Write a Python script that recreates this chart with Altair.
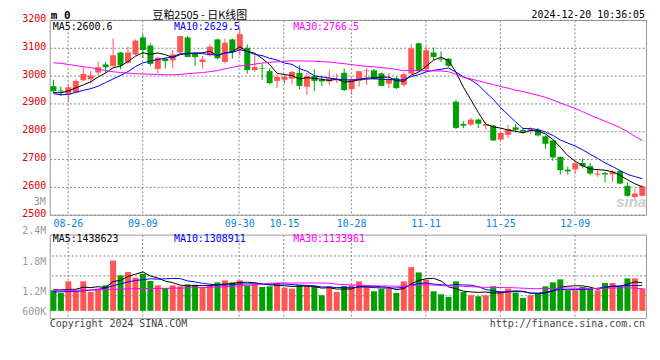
import altair as alt
import pandas as pd

# ---------------- data ----------------
dates = ["08-22", "08-23", "08-26", "08-27", "08-28", "08-29", "08-30",
         "09-02", "09-03", "09-04", "09-05", "09-06",
         "09-09", "09-10", "09-11", "09-12", "09-13",
         "09-18", "09-19", "09-20",
         "09-23", "09-24", "09-25", "09-26", "09-27",
         "09-30",
         "10-08", "10-09", "10-10", "10-11",
         "10-14", "10-15", "10-16", "10-17", "10-18",
         "10-21", "10-22", "10-23", "10-24", "10-25",
         "10-28", "10-29", "10-30", "10-31",
         "11-01",
         "11-04", "11-05", "11-06", "11-07", "11-08",
         "11-11", "11-12", "11-13", "11-14", "11-15",
         "11-18", "11-19", "11-20", "11-21", "11-22",
         "11-25", "11-26", "11-27", "11-28", "11-29",
         "12-02", "12-03", "12-04", "12-05", "12-06",
         "12-09", "12-10", "12-11", "12-12", "12-13",
         "12-16", "12-17", "12-18", "12-19", "12-20"]

open_ = [2962, 2946, 2933, 2939, 2983, 2987, 3011, 3040, 3034, 3083,
         3046, 3076, 3137, 3108, 3024, 3061, 3055, 3083, 3137, 3079,
         3049, 3073, 3130, 3049, 3130, 3092, 3100, 3020, 3026, 3016,
         2981, 2985, 2989, 3010, 2960, 2998, 2985, 2979, 2983, 3010,
         2951, 2981, 3016, 3019, 3008, 2971, 2991, 2967, 3007, 3116,
         3023, 3083, 3061, 3061, 2906, 2826, 2824, 2842, 2820, 2820,
         2770, 2787, 2814, 2805, 2802, 2805, 2782, 2767, 2708, 2662,
         2663, 2686, 2675, 2644, 2650, 2645, 2657, 2604, 2564, 2568]
high = [2985, 2961, 2969, 2987, 3032, 3017, 3051, 3049, 3133, 3085,
        3104, 3130, 3148, 3116, 3068, 3064, 3092, 3143, 3142, 3082,
        3070, 3112, 3133, 3133, 3133, 3174, 3112, 3073, 3043, 3026,
        3005, 3005, 3017, 3037, 3011, 3023, 2999, 3019, 3007, 3026,
        2993, 3016, 3026, 3023, 3011, 3010, 2998, 3011, 3112, 3119,
        3104, 3101, 3087, 3063, 2913, 2836, 2849, 2846, 2832, 2823,
        2796, 2823, 2826, 2811, 2814, 2811, 2785, 2768, 2709, 2673,
        2691, 2701, 2686, 2660, 2654, 2660, 2660, 2616, 2594, 2606]
low = [2939, 2927, 2904, 2937, 2981, 2971, 3001, 3011, 3032, 3023,
       3043, 3073, 3064, 3034, 3008, 3026, 3026, 3080, 3065, 3034,
       3025, 3068, 3058, 3044, 3061, 3073, 3007, 3013, 2985, 2969,
       2955, 2971, 2969, 2951, 2931, 2944, 2963, 2967, 2973, 2944,
       2931, 2960, 2967, 2985, 2962, 2955, 2951, 2960, 3005, 3013,
       3019, 3056, 3049, 3032, 2808, 2811, 2818, 2812, 2806, 2765,
       2767, 2776, 2796, 2793, 2790, 2781, 2737, 2694, 2645, 2645,
       2648, 2666, 2642, 2636, 2616, 2618, 2610, 2564, 2552, 2566]
close = [2944, 2943, 2958, 2981, 3006, 3001, 3030, 3030, 3073, 3037,
         3083, 3126, 3092, 3042, 3064, 3052, 3076, 3142, 3067, 3067,
         3058, 3104, 3062, 3118, 3085, 3149, 3020, 3031, 3024, 2973,
         2995, 2995, 3013, 2963, 2998, 2981, 2979, 2991, 2987, 2948,
         2987, 3016, 3019, 2987, 2963, 2987, 2955, 3005, 3098, 3017,
         3091, 3067, 3058, 3035, 2812, 2820, 2842, 2827, 2826, 2767,
         2794, 2808, 2805, 2799, 2808, 2785, 2755, 2706, 2660, 2656,
         2685, 2674, 2648, 2648, 2645, 2656, 2612, 2568, 2576, 2602]

ma5 = [2939, 2938, 2945, 2956, 2966.4, 2977.8, 2995.2, 3009.6, 3028, 3034.2,
       3050.6, 3069.8, 3082.2, 3076, 3081.4, 3075.2, 3065.2, 3075.2, 3080.2, 3080.8,
       3082, 3087.6, 3071.6, 3081.8, 3085.4, 3103.6, 3086.8, 3080.6, 3061.8, 3039.4,
       3008.6, 3003.6, 3000, 2987.8, 2992.8, 2990, 2986.8, 2982.4, 2987.2, 2977.2,
       2978.4, 2985.8, 2991.4, 2991.4, 2994.4, 2994.4, 2982.2, 2979.4, 3001.6, 3012.4,
       3033.2, 3055.6, 3066.2, 3053.6, 3012.6, 2958.4, 2913.4, 2867.2, 2825.4, 2816.4,
       2811.2, 2804.4, 2800, 2794.6, 2802.8, 2801, 2790.4, 2770.6, 2742.8, 2712.4,
       2692.4, 2676.2, 2664.6, 2662.2, 2660, 2654.2, 2641.8, 2625.8, 2611.4, 2600.6]
ma10 = [2935, 2931, 2932, 2940, 2947, 2953, 2962, 2975, 2988, 3000.3,
        3014.2, 3032.5, 3045.9, 3052, 3057.8, 3062.9, 3067.5, 3078.7, 3078.1, 3081.1,
        3078.6, 3076.4, 3073.4, 3081, 3083.1, 3092.8, 3087.2, 3076.1, 3071.8, 3062.4,
        3056.1, 3045.2, 3040.3, 3024.8, 3016.1, 2999.3, 2995.2, 2991.2, 2987.5, 2985,
        2984.2, 2986.3, 2986.9, 2989.3, 2985.8, 2986.4, 2984, 2985.4, 2996.5, 3003.4,
        3013.8, 3018.9, 3022.8, 3027.6, 3012.5, 2995.8, 2984.5, 2966.7, 2939.5, 2914.5,
        2884.8, 2858.9, 2833.6, 2810, 2809.6, 2806.1, 2797.4, 2785.3, 2768.7, 2757.6,
        2746.7, 2733.3, 2717.6, 2702.5, 2686.2, 2673.3, 2659, 2645.2, 2636.8, 2629.5]
ma30 = [3046, 3044, 3040, 3036, 3032, 3029, 3023, 3018, 3014, 3011,
        3009, 3007, 3006, 3005, 3004, 3003, 3003, 3004, 3007, 3009,
        3011, 3014, 3018, 3024, 3030, 3034, 3038, 3041, 3045, 3047.9,
        3049.6, 3051.4, 3053.2, 3052.6, 3052.3, 3051.7, 3050, 3048.7, 3045.8, 3042.8,
        3039.6, 3036, 3033.5, 3031.7, 3028.3, 3026.2, 3022.1, 3017.6, 3018.6, 3016.9,
        3018, 3016.8, 3016.7, 3013.9, 3004.8, 2993.8, 2987.9, 2981.1, 2974.5, 2967.6,
        2960.9, 2954.7, 2947.8, 2942.3, 2936, 2929.4, 2922, 2912.5, 2901.6, 2891.8,
        2881.8, 2870.4, 2858, 2846.7, 2836.1, 2825.1, 2813.6, 2799.1, 2781.7, 2766.5]

# volume in thousands
vol = [1057, 920, 1517, 1057, 1517, 972, 1142, 1312, 2591, 1824,
       1994, 1705, 1909, 1534, 1312, 1176, 1312, 1261, 1364, 1347,
       1227, 1278, 1466, 1568, 1466, 1568, 1278, 1364, 1227, 1261,
       1432, 1193, 1142, 1330, 1278, 1295, 801, 1261, 972, 1278,
       1312, 1517, 1227, 1006, 1142, 1142, 920, 1517, 2250, 1977,
       1602, 1006, 852, 716, 1517, 972, 801, 750, 801, 1261,
       1006, 1142, 937, 665, 801, 920, 1261, 1466, 1619, 1057,
       1057, 1227, 1142, 1057, 1432, 1432, 1261, 1670, 1670, 1159]
vma5 = [1090, 1080, 1100, 1110, 1214, 1197, 1241, 1200, 1507, 1568,
        1773, 1885, 2005, 1793, 1691, 1527, 1449, 1319, 1285, 1292,
        1302, 1295, 1336, 1377, 1401, 1469, 1469, 1449, 1381, 1340,
        1312, 1295, 1251, 1272, 1275, 1248, 1169, 1193, 1121, 1121,
        1125, 1268, 1261, 1268, 1241, 1207, 1087, 1145, 1394, 1561,
        1653, 1670, 1537, 1231, 1139, 1013, 972, 951, 968, 917,
        924, 992, 1029, 1002, 910, 893, 917, 1023, 1213, 1265,
        1292, 1285, 1220, 1108, 1183, 1258, 1265, 1370, 1493, 1439]
vma10 = [975, 980, 995, 1010, 1030, 1060, 1110, 1170, 1290, 1391,
         1485, 1563, 1602, 1650, 1630, 1650, 1667, 1662, 1539, 1491,
         1415, 1372, 1328, 1331, 1347, 1386, 1382, 1393, 1379, 1370,
         1391, 1382, 1350, 1326, 1307, 1280, 1232, 1222, 1197, 1198,
         1186, 1219, 1227, 1195, 1181, 1166, 1178, 1203, 1331, 1401,
         1430, 1379, 1341, 1312, 1350, 1333, 1321, 1244, 1099, 1028,
         968, 982, 990, 985, 914, 908, 954, 1026, 1108, 1087,
         1093, 1101, 1122, 1161, 1224, 1275, 1275, 1295, 1301, 1309]
vma30 = [1060, 1060, 1060, 1062, 1065, 1070, 1080, 1100, 1110, 1120,
         1130, 1140, 1145, 1150, 1155, 1160, 1165, 1170, 1180, 1190,
         1200, 1210, 1225, 1240, 1260, 1280, 1310, 1340, 1380, 1418,
         1430, 1439, 1427, 1436, 1428, 1439, 1427, 1425, 1372, 1353,
         1331, 1324, 1302, 1284, 1278, 1277, 1264, 1273, 1302, 1323,
         1336, 1327, 1306, 1278, 1279, 1260, 1244, 1223, 1209, 1209,
         1195, 1193, 1186, 1164, 1148, 1136, 1151, 1158, 1179, 1172,
         1164, 1154, 1151, 1153, 1162, 1172, 1183, 1189, 1169, 1134]

date_ticks = ["08-26", "09-09", "09-30", "10-15", "10-28", "11-11", "11-25", "12-09"]
price_ticks = [2500, 2600, 2700, 2800, 2900, 3000, 3100, 3200]
price_extra_tick = 2542            # where the stray "3M" label sits
price_extra_label = "3M"
vol_tick_values = [3856, 2270, 752, -271]
vol_tick_labels = ["2.4M", "1.8M", "1.2M", "600K"]
vol_grid_values = [2823, 1800, 777]

price_legend = ["MA5:2600.6", "MA10:2629.5", "MA30:2766.5"]
vol_legend = ["MA5:1438623", "MA10:1308911", "MA30:1133961"]
title_text = "豆粕2505 - 日K线图"
stamp_text = "2024-12-20 10:36:05"
corner_text = "m 0"
copyright_text = "Copyright 2024 SINA.COM"
url_text = "http://finance.sina.com.cn"
watermark_text = "sina"

# ---------------- styling ----------------
MONO = "DejaVu Sans Mono"
CJK = "Noto Sans CJK SC"
RED, GREEN = "#ff5555", "#00a000"
GRID = "#888888"
DASH = [2, 2]
BLUE_LBL = "#0a84d6"
MA_COLORS = ["#000000", "#0000ff", "#ff00ff"]

df = pd.DataFrame({"date": dates, "open": open_, "high": high, "low": low,
                   "close": close, "vol": vol, "ma5": ma5, "ma10": ma10,
                   "ma30": ma30, "vma5": vma5, "vma10": vma10, "vma30": vma30})
df["dir"] = ["up" if c >= o else "down" for o, c in zip(open_, close)]

color = alt.Color("dir:N", scale=alt.Scale(domain=["up", "down"], range=[RED, GREEN]),
                  legend=None)
xs = alt.Scale(domain=dates, paddingInner=0.2, paddingOuter=0.1)

x_axis_price = alt.Axis(values=date_ticks, title=None, labelAngle=0, labelColor=BLUE_LBL,
                        labelFont=MONO, labelFontSize=10, labelPadding=4, tickSize=0,
                        domain=False, grid=True, gridColor=GRID, gridDash=DASH,
                        gridWidth=1, bandPosition=0.375, labelOverlap=False)
x_axis_vol = alt.Axis(values=date_ticks, title=None, labels=False, tickSize=0,
                      domain=False, grid=True, gridColor=GRID, gridDash=DASH,
                      gridWidth=1, bandPosition=0.375)

y_axis_price = alt.Axis(values=price_ticks, tickCount=20, title=None, format="d",
                        labelColor="#e00000", labelFont=MONO, labelFontSize=10,
                        labelPadding=4, tickSize=0, domain=False, grid=True,
                        gridColor=GRID, gridDash=DASH, gridWidth=1, labelOffset=-1.5,
                        labelOverlap=False)
ys = alt.Scale(domain=[2500, 3200], nice=False, zero=False)

vol_expr = " : ".join(f"datum.value == {v} ? '{t}'" for v, t in
                      zip(vol_tick_values, vol_tick_labels)) + " : ''"
y_axis_vol = alt.Axis(values=vol_tick_values, tickCount=20, title=None, labelExpr=vol_expr,
                      labelColor="#999999", labelFont=MONO, labelFontSize=10,
                      labelPadding=4, tickSize=0, domain=False, grid=False,
                      labelOffset=-5, labelOverlap=False)
vs = alt.Scale(domain=[-373, 3922], nice=False, zero=False)


def text_layer(text, x, y, color, size=10, align="left", font=MONO, weight="normal",
               style="normal"):
    return alt.Chart(pd.DataFrame({"t": [text]})).mark_text(
        align=align, baseline="middle", x=x, y=y, color=color, fontSize=size,
        font=font, fontWeight=weight, fontStyle=style).encode(text="t:N")


base = alt.Chart(df)
wick = base.mark_rule(strokeWidth=1).encode(
    x=alt.X("date:N", scale=xs, axis=x_axis_price, title=None),
    y=alt.Y("low:Q", scale=ys, axis=y_axis_price, title=None),
    y2="high:Q", color=color)
body = base.mark_bar().encode(
    x=alt.X("date:N", scale=xs, title=None),
    y=alt.Y("open:Q", scale=ys, title=None), y2="close:Q", color=color)
lines = [base.mark_line(color=c, strokeWidth=1).encode(
    x=alt.X("date:N", scale=xs, title=None),
    y=alt.Y(f"{f}:Q", scale=ys, title=None))
    for f, c in zip(["ma5", "ma10", "ma30"], MA_COLORS)]

extra_label = alt.Chart(pd.DataFrame({"v": [price_extra_tick],
                                      "t": [price_extra_label]})).mark_text(
    align="right", baseline="middle", dy=-1.5, color="#999999", font=MONO,
    fontSize=10).encode(x=alt.value(-4), y=alt.Y("v:Q", scale=ys, title=None),
                        text="t:N")

price_texts = [
    extra_label,
    text_layer(corner_text, 1, -4, "#000000", size=11, weight="bold"),
    text_layer(title_text, 151, -3.5, "#000000", size=11, align="center", font=CJK),
    text_layer(stamp_text, 599, -5, "#000000", size=10, align="right"),
    text_layer(watermark_text, 600, 183, "#cccccc", size=15, align="right",
               font="Liberation Sans", weight="bold", style="italic"),
] + [text_layer(t, x, 7, c) for t, x, c in zip(price_legend, [3, 125, 245], MA_COLORS)]

price = alt.layer(wick, body, *lines, *price_texts).properties(width=600, height=196)

vgrid = alt.Chart(pd.DataFrame({"g": vol_grid_values})).mark_rule(
    color=GRID, strokeDash=DASH, strokeWidth=1).encode(
    y=alt.Y("g:Q", scale=vs, title=None))
vbars = base.mark_bar().encode(
    x=alt.X("date:N", scale=xs, axis=x_axis_vol, title=None),
    y=alt.Y("vol:Q", scale=vs, axis=y_axis_vol, title=None),
    y2=alt.Y2(datum=0), color=color)
vlines = [base.mark_line(color=c, strokeWidth=1).encode(
    x=alt.X("date:N", scale=xs, title=None),
    y=alt.Y(f"{f}:Q", scale=vs, title=None))
    for f, c in zip(["vma5", "vma10", "vma30"], MA_COLORS)]
vol_texts = [text_layer(t, x, 4, c) for t, x, c in zip(vol_legend, [3, 125, 245], MA_COLORS)]
vol_texts += [text_layer(copyright_text, 0, 89.5, "#444444"),
              text_layer(url_text, 599, 90, "#444444", align="right")]

volume = alt.layer(vgrid, vbars, *vlines, *vol_texts).properties(width=600, height=84)

chart = alt.vconcat(price, volume, spacing=20, bounds="flush").properties(
    padding={"left": 13, "top": 0, "right": 5, "bottom": 5},
    background="white",
).configure_view(stroke="#999999", strokeWidth=1)

chart.save("out.html", embed_options={"renderer": "svg", "actions": False})
